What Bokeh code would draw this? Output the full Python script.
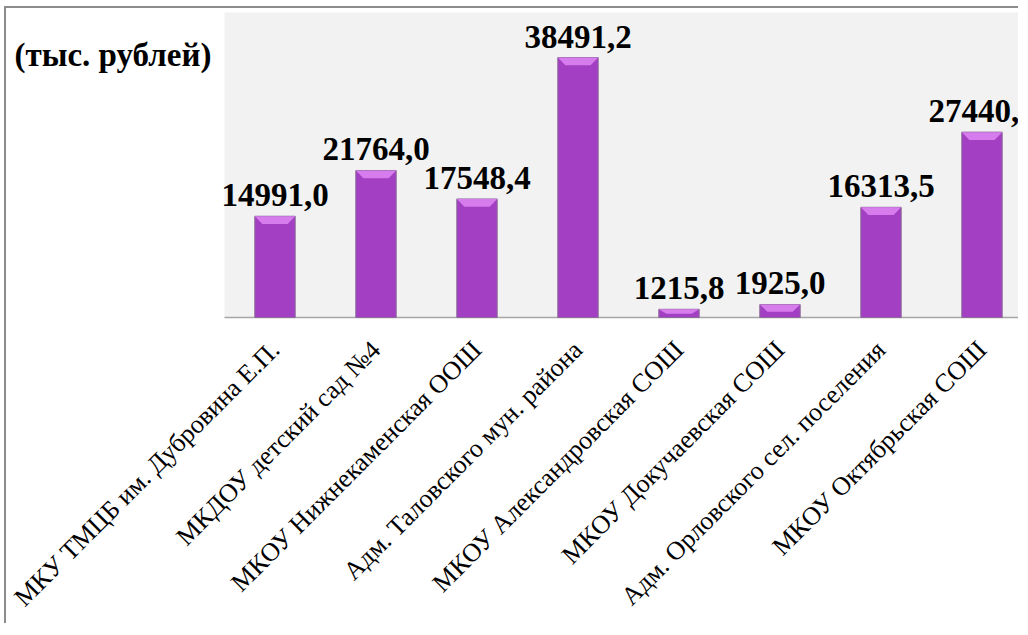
import math
from bokeh.plotting import figure
from bokeh.models import ColumnDataSource, FixedTicker, Range1d, BoxAnnotation
from bokeh.core.properties import value
from bokeh.embed import file_html
from bokeh.resources import INLINE

categories = [
    "МКУ ТМЦБ им. Дубровина Е.П.",
    "МКДОУ детский сад №4",
    "МКОУ Нижнекаменская ООШ",
    "Адм. Таловского мун. района",
    "МКОУ Александровская СОШ",
    "МКОУ Докучаевская СОШ",
    "Адм. Орловского сел. поселения",
    "МКОУ Октябрьская СОШ",
]
values = [14991.0, 21764.0, 17548.4, 38491.2, 1215.8, 1925.0, 16313.5, 27440.3]
value_labels = ["14991,0", "21764,0", "17548,4", "38491,2", "1215,8", "1925,0", "16313,5", "27440,3"]
unit_title = "(тыс. рублей)"

idx = list(range(len(categories)))
BAR_W = 0.4
src = ColumnDataSource(dict(x=idx, top=values, lab=value_labels))

# bevel shapes derived from data
bev_xs, bev_ys = [], []
for i, v in zip(idx, values):
    bh = min(1150.0, v * 0.55)
    half = BAR_W / 2
    inset = half - 0.075
    bev_xs.append([i - half, i + half, i + inset, i - inset])
    bev_ys.append([v, v, v - bh, v - bh])

FONT = "Liberation Serif"

# pixel geometry helpers
W, H = 1014, 617
CAT_PX = 101.0            # pixels per category
PLOT_LEFT_PX = 218        # gray area left edge, from canvas left
BASE_PX = 309             # baseline, from canvas top
K = 260.0 / 38491.2       # pixels per unit
FRAME_H = BASE_PX + 2

x0 = -0.5 - PLOT_LEFT_PX / CAT_PX
x1 = -0.5 + (W - PLOT_LEFT_PX) / CAT_PX
y0 = -2 / K
y1 = BASE_PX / K

p = figure(
    width=W, height=H,
    x_range=Range1d(x0, x1),
    y_range=Range1d(y0, y1),
    output_backend="svg", toolbar_location=None,
    y_axis_location=None,
    min_border_left=0, min_border_right=0,
    min_border_top=0, min_border_bottom=H - FRAME_H,
)
p.styles = {
    "border-top": "2px solid #8c8c8c",
    "border-left": "2px solid #8c8c8c",
    "position": "relative",
    "left": "4px",
    "top": "6px",
}
p.background_fill_color = "white"
p.border_fill_color = "white"
p.outline_line_color = None
p.grid.visible = False

# plot-area background
p.add_layout(BoxAnnotation(left=-0.5, bottom=0, top=(BASE_PX - 4) / K,
                           fill_color="#f2f2f2", fill_alpha=1.0,
                           line_color=None, level="underlay"))
# baseline
p.segment(x0=[-0.5], y0=[0], x1=[x1 + 1], y1=[0], line_color="#a6a6a6", line_width=1.5)

p.vbar(x="x", top="top", bottom=0, width=BAR_W, source=src,
       fill_color="#a23fc3", line_color="#8a6a98", line_width=1)
p.patches(bev_xs, bev_ys, fill_color="#d67cec", line_color=None)

p.text(x="x", y="top", text="lab", source=src,
       text_font=value(FONT), text_font_style="bold", text_font_size="33px",
       text_color="black", text_align="center", text_baseline="alphabetic",
       y_offset=-21)

# unit title (left of the plot area)
p.text(x=[x0 + 8 / CAT_PX], y=[(BASE_PX - 46) / K], text=[unit_title],
       text_font=value(FONT), text_font_style="bold", text_font_size="33px",
       text_color="black", text_align="left", text_baseline="alphabetic")

ax = p.xaxis[0]
ax.ticker = FixedTicker(ticks=idx)
ax.major_label_overrides = {i: c for i, c in zip(idx, categories)}
ax.major_label_orientation = math.pi / 4
ax.major_label_text_font = FONT
ax.major_label_text_font_size = "26px"
ax.major_label_text_color = "black"
ax.major_label_standoff = 20
ax.major_tick_line_color = None
ax.minor_tick_line_color = None
ax.axis_line_color = None

open("out.html", "w").write(file_html(p, INLINE))
